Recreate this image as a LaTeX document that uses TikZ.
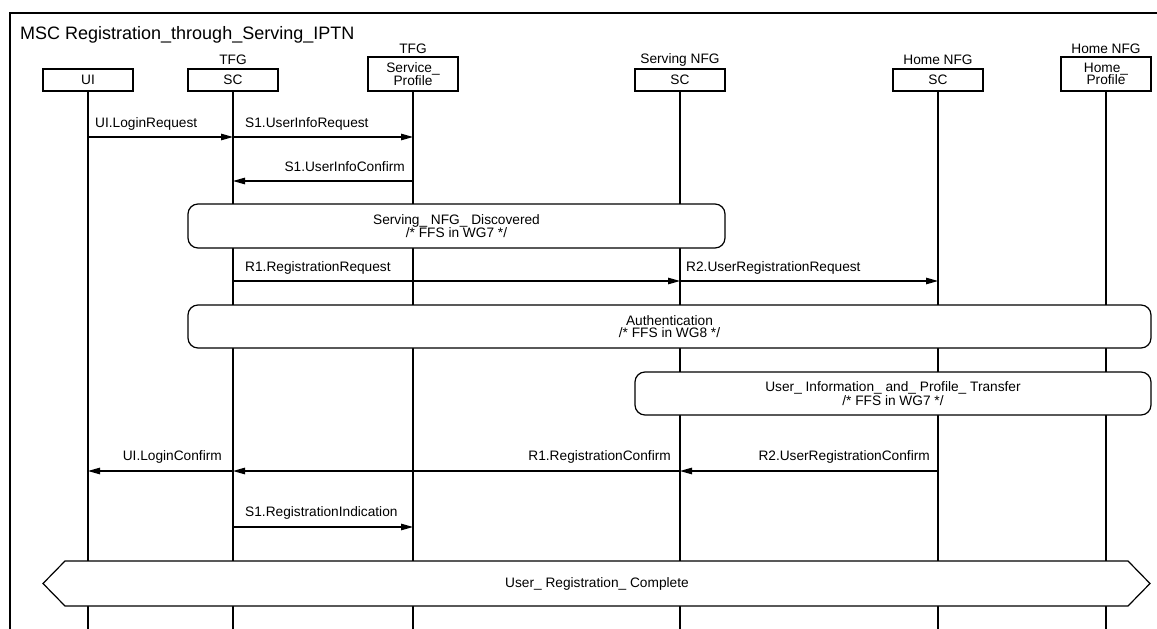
\documentclass[tikz,border=0pt]{standalone}
\usepackage{fontspec}
\setmainfont{Liberation Sans}
\usetikzlibrary{arrows.meta,calc}
\begin{document}
\begin{tikzpicture}[x=1pt,y=-1pt,
  font=\fontsize{13.7}{12}\selectfont,
  inst/.style={draw, fill=white, line width=1.2pt, minimum width=90pt, minimum height=22pt, inner sep=0pt, align=center},
  insttall/.style={inst, minimum height=34pt},
  life/.style={line width=1.3pt},
  msg/.style={line width=1.2pt, -{Triangle[length=12pt,width=6.5pt]}},
  lbl/.style={inner sep=0pt},
  cond/.style={draw, fill=white, line width=1.2pt, rounded corners=10pt, inner sep=0pt, align=center}
]
\useasboundingbox (0,0) rectangle (1157,629);
% frame
\draw[line width=1.5pt] (10,629) -- (10,13) -- (1157,13);
\node[lbl, anchor=west, font=\fontsize{18}{20}\selectfont] (title) at (20,35) {MSC Registration\_through\_Serving\_IPTN};

% instances
\node[inst] (ui) at (88,80) {UI};
\node[inst] (tsc) at (233,80) {SC};
\node[insttall] (tsp) at (413,74) {Service\_\\[-1pt]Profile};
\node[inst] (ssc) at (680,80) {SC};
\node[inst] (hsc) at (938,80) {SC};
\node[insttall] (hp) at (1106,74) {Home\_\\[-1pt]Profile};

\node[lbl] (tscl) at (233,60) {TFG};
\node[lbl] (tspl) at (413,49) {TFG};
\node[lbl] (sscl) at (680,60) {Serving NFG};
\node[lbl] (hscl) at (938,60) {Home NFG};
\node[lbl] (hpl) at (1106,49) {Home NFG};

% lifeline ends
\coordinate (uiE) at (88,629);
\coordinate (tscE) at (233,629);
\coordinate (tspE) at (413,629);
\coordinate (sscE) at (680,629);
\coordinate (hscE) at (938,629);
\coordinate (hpE) at (1106,629);

\draw[life] (ui.south) -- (uiE);
\draw[life] (tsc.south) -- (tscE);
\draw[life] (tsp.south) -- (tspE);
\draw[life] (ssc.south) -- (sscE);
\draw[life] (hsc.south) -- (hscE);
\draw[life] (hp.south) -- (hpE);

% message rows
\coordinate (r1) at (0,137);
\coordinate (r2) at (0,181);
\coordinate (r3) at (0,281);
\coordinate (r4) at (0,471);
\coordinate (r5) at (0,527);

\draw[msg] (ui |- r1) -- (tsc |- r1);
\node[lbl, anchor=west] at (95,124) {UI.LoginRequest};
\draw[msg] (tsc |- r1) -- (tsp |- r1);
\node[lbl, anchor=west] at (245,124) {S1.UserInfoRequest};
\draw[msg] (tsp |- r2) -- (tsc |- r2);
\node[lbl, anchor=east] at (405,167) {S1.UserInfoConfirm};

\node[cond, minimum width=537pt, minimum height=44pt] (c1) at (456.5,226) {Serving\_ NFG\_ Discovered\\/* FFS in WG7 */};

\draw[msg] (tsc |- r3) -- (ssc |- r3);
\node[lbl, anchor=west] at (245,268) {R1.RegistrationRequest};
\draw[msg] (ssc |- r3) -- (hsc |- r3);
\node[lbl, anchor=west] at (686,268) {R2.UserRegistrationRequest};

\node[cond, minimum width=963pt, minimum height=43pt] (c2) at (669.5,326.5) {Authentication\\/* FFS in WG8 */};
\node[cond, minimum width=516pt, minimum height=43pt] (c3) at (893,393.5) {User\_ Information\_ and\_ Profile\_ Transfer\\/* FFS in WG7 */};

\draw[msg] (hsc |- r4) -- (ssc |- r4);
\node[lbl, anchor=east] at (930,457) {R2.UserRegistrationConfirm};
\draw[msg] (ssc |- r4) -- (tsc |- r4);
\node[lbl, anchor=east] at (671,457) {R1.RegistrationConfirm};
\draw[msg] (tsc |- r4) -- (ui |- r4);
\node[lbl, anchor=east] at (222,457) {UI.LoginConfirm};

\draw[msg] (tsc |- r5) -- (tsp |- r5);
\node[lbl, anchor=west] at (245,513) {S1.RegistrationIndication};

% final condition (hexagon)
\draw[fill=white, line width=1.2pt] (43,583.5) -- (65,561) -- (1128,561) -- (1150,583.5) -- (1128,606) -- (65,606) -- cycle;
\node[lbl] (fin) at (597,583.5) {User\_ Registration\_ Complete};
\end{tikzpicture}
\end{document}
